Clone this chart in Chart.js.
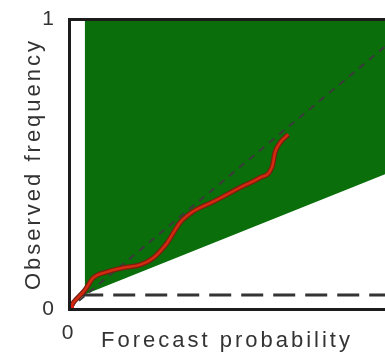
<!DOCTYPE html>
<html>
<head>
<meta charset="utf-8">
<script src="https://cdn.jsdelivr.net/npm/chart.js@4.4.1/dist/chart.umd.min.js"></script>
<style>
  body { margin: 0; background: #fff; }
  canvas { display: block; }
</style>
</head>
<body>
<canvas id="reliability" width="385" height="359"></canvas>
<script>
// Reliability curve (forecast probability vs observed frequency)
const curveX = [0.003, 0.011, 0.046, 0.069, 0.109, 0.155, 0.203, 0.241, 0.281, 0.318, 0.355, 0.413, 0.490, 0.547, 0.582, 0.590, 0.605, 0.628];
const curveY = [0.005, 0.020, 0.066, 0.107, 0.128, 0.142, 0.152, 0.176, 0.228, 0.298, 0.336, 0.370, 0.419, 0.453, 0.491, 0.540, 0.574, 0.602];

// Skill region: lower edge is the no-skill line, left edge at climatology
const noSkillX = [0.045, 1];
const noSkillY = [0.05, 0.51];

// Climatology (horizontal) and perfect reliability (diagonal)
const climX = [0.035, 1];
const climY = [0.048, 0.048];
const diagX = [0, 1];
const diagY = [0, 1];

// Tick labels
const xTicks = [0];
const yTicks = [0, 1];

const pts = (xs, ys) => xs.map((x, i) => ({ x: x, y: ys[i] }));

Chart.defaults.font.family = "'Liberation Sans', Arial, sans-serif";
Chart.defaults.color = '#333';

const lineColor = '#1c1c1c';

// titles in the picture are letter-spaced
const spacing = {
    id: 'spacing',
    beforeDraw(chart) { chart.ctx.letterSpacing = '3px'; },
    afterDraw(chart) { chart.ctx.letterSpacing = '0px'; }
};

// keep tick labels from pushing the plot area in
const noLabelPadding = s => {
    s.paddingTop = 0;
    s.paddingBottom = 0;
    s.paddingLeft = 0;
    s.paddingRight = 0;
};

new Chart(document.getElementById('reliability'), {
    type: 'line',
    data: {
        datasets: [
            {
                data: pts(noSkillX, noSkillY),
                fill: 'end',
                backgroundColor: '#0a6e0a',
                borderWidth: 0,
                pointRadius: 0,
                clip: 0,
                order: 5
            },
            {
                data: pts(climX, climY),
                borderColor: '#333',
                borderWidth: 3,
                borderDash: [22, 10],
                pointRadius: 0,
                clip: 0,
                order: 4
            },
            {
                data: pts(diagX, diagY),
                borderColor: '#3a3a3a',
                borderWidth: 2,
                borderDash: [7, 6],
                pointRadius: 0,
                clip: 0,
                order: 3
            },
            {
                data: pts(curveX, curveY),
                borderColor: '#7a1e10',
                borderWidth: 5,
                cubicInterpolationMode: 'monotone',
                pointRadius: 0,
                order: 2
            },
            {
                data: pts(curveX, curveY),
                borderColor: '#d42a10',
                borderWidth: 2.5,
                cubicInterpolationMode: 'monotone',
                pointRadius: ctx => ctx.dataIndex === 0 ? 4 : 0,
                pointBackgroundColor: '#e0200c',
                pointBorderWidth: 0,
                order: 1
            }
        ]
    },
    options: {
        responsive: false,
        animation: false,
        layout: { padding: 0, autoPadding: false },
        plugins: {
            legend: { display: false },
            tooltip: { enabled: false }
        },
        scales: {
            x: {
                type: 'linear',
                position: 'bottom',
                min: 0,
                max: 0.905,
                grid: { display: false, drawTicks: false },
                border: { display: true, color: lineColor, width: 3, z: 1 },
                ticks: { font: { size: 21 }, padding: 12, maxRotation: 0, callback: v => String(v) },
                afterBuildTicks: s => { s.ticks = xTicks.map(v => ({ value: v })); },
                afterFit: s => { s.height = 50; noLabelPadding(s); },
                title: {
                    display: true,
                    text: 'Forecast probability',
                    font: { size: 22 },
                    padding: { top: 0, bottom: 5 }
                }
            },
            xTop: {
                type: 'linear',
                position: 'top',
                min: 0,
                max: 0.905,
                grid: { display: false, drawTicks: false },
                border: { display: true, color: lineColor, width: 3, z: 1 },
                ticks: { display: false },
                afterFit: s => { s.height = 19; noLabelPadding(s); }
            },
            y: {
                type: 'linear',
                min: 0,
                max: 1,
                grid: { display: false, drawTicks: false },
                border: { display: true, color: lineColor, width: 3, z: 1 },
                ticks: { font: { size: 21 }, padding: 12, callback: v => String(v) },
                afterBuildTicks: s => { s.ticks = yTicks.map(v => ({ value: v })); },
                afterFit: s => { s.width = 69; noLabelPadding(s); },
                title: {
                    display: true,
                    text: 'Observed frequency',
                    font: { size: 22 },
                    padding: { top: 21, bottom: 0 }
                }
            }
        }
    },
    plugins: [spacing]
});
</script>
</body>
</html>
